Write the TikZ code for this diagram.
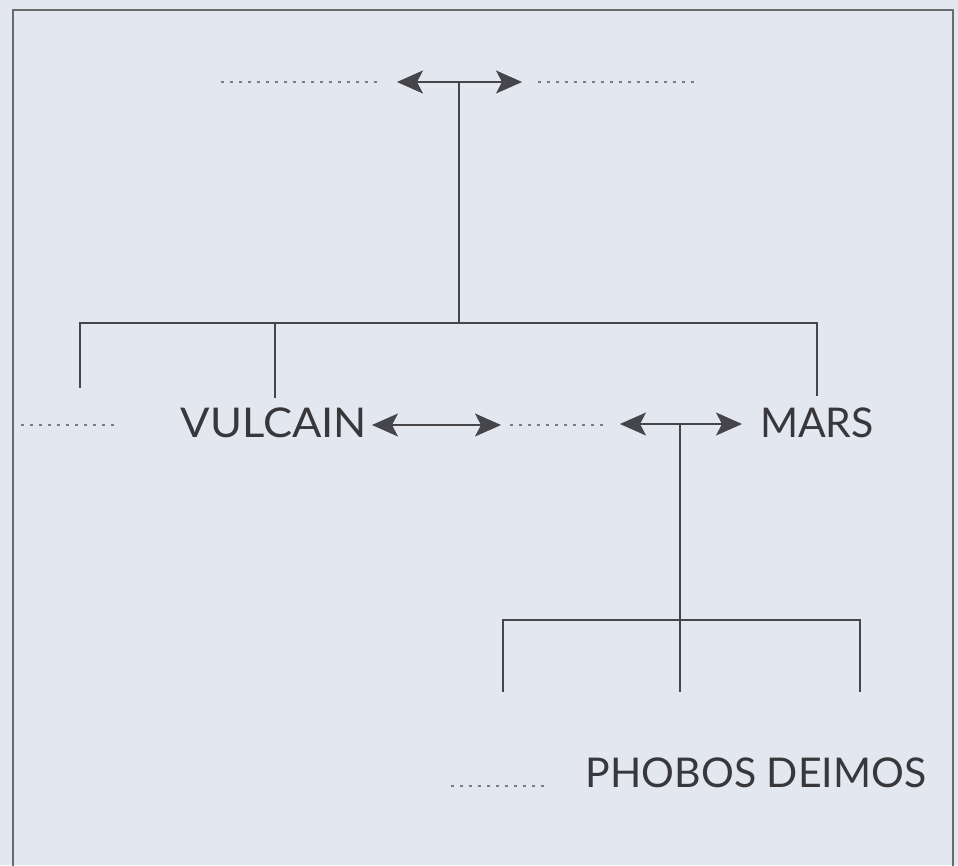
\documentclass[tikz,border=0pt]{standalone}
\usepackage{fontspec}
\setmainfont{Lato}
\usetikzlibrary{arrows.meta}
\definecolor{bg}{HTML}{E3E7EF}
\definecolor{ink}{HTML}{46464A}
\definecolor{txt}{HTML}{38383C}
\definecolor{dotc}{HTML}{7A7C82}
\begin{document}
\begin{tikzpicture}[x=1pt,y=-1pt,
  line/.style={draw=ink,line width=1.9pt},
  tip/.tip={Stealth[length=26pt,width=23pt,inset=6pt,line width=1pt]},
  dbl/.style={draw=ink,line width=2.4pt,tip-tip},
  dotline/.style={draw=dotc,line width=2.6pt,dash pattern=on 2.6pt off 6.4pt},
  lbl/.style={inner sep=0pt,text=txt,font=\fontsize{41}{41}\selectfont}]
\useasboundingbox[fill=bg] (0,0) rectangle (958,865);
\draw[draw=ink!80,line width=2.2pt] (13,900) -- (13,10) -- (953,10) -- (953,900);
% top
\coordinate (ta) at (397,82);
\coordinate (tb) at (522,82);
\coordinate (tm) at (459,82);
\coordinate (td1) at (221,82);
\coordinate (td2) at (381,82);
\coordinate (td3) at (538,82);
\coordinate (td4) at (698,82);
\draw[dotline] (td1) -- (td2);
\draw[dotline] (td3) -- (td4);
\draw[dbl] (ta) -- (tb);
\coordinate (hm) at (459,323);
\draw[line] (tm) -- (hm);
% bracket
\coordinate (h1) at (80,323);
\coordinate (h2) at (275,323);
\coordinate (h3) at (817,323);
\coordinate (l1) at (80,388);
\coordinate (l2) at (275,398);
\coordinate (l3) at (817,396);
\draw[line] (l1) -- (h1) -- (h3) -- (l3);
\draw[line] (h2) -- (l2);
% middle row
\node[lbl,xscale=1.06] (vul) at (274,423) {VULCAIN};
\node[lbl] (mars) at (817,423) {MARS};
\coordinate (md1) at (21,425);
\coordinate (md2) at (117,425);
\draw[dotline] (md1) -- (md2);
\coordinate (va) at (372,425);
\coordinate (vb) at (501,425);
\draw[dbl] (va) -- (vb);
\coordinate (md3) at (510,425);
\coordinate (md4) at (608,425);
\draw[dotline] (md3) -- (md4);
\coordinate (ma) at (620,424);
\coordinate (mb) at (742,424);
\coordinate (mm) at (680,424);
\draw[dbl] (ma) -- (mb);
% lower bracket
\coordinate (k1) at (503,620);
\coordinate (k2) at (680,620);
\coordinate (k3) at (860,620);
\coordinate (j1) at (503,692);
\coordinate (j2) at (680,692);
\coordinate (j3) at (860,692);
\draw[line] (mm) -- (j2);
\draw[line] (j1) -- (k1) -- (k3) -- (j3);
% bottom row
\coordinate (bd1) at (451,786);
\coordinate (bd2) at (548,786);
\draw[dotline] (bd1) -- (bd2);
\node[lbl] (pd) at (756,773) {PHOBOS DEIMOS};
\end{tikzpicture}
\end{document}
